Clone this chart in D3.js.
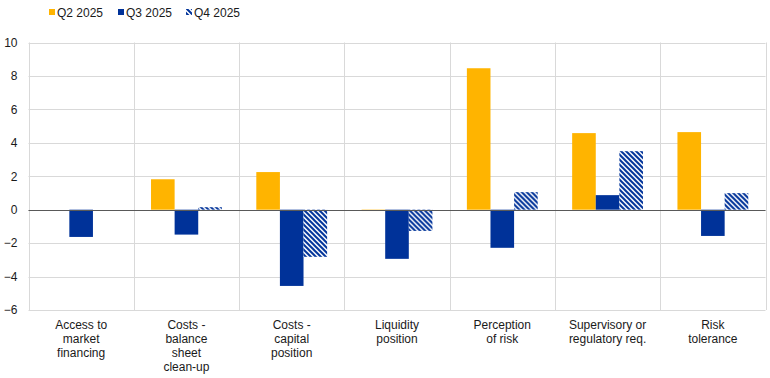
<!DOCTYPE html>
<html>
<head>
<meta charset="utf-8">
<script src="https://cdn.jsdelivr.net/npm/d3@7"></script>
<style>
  body { margin: 0; background: #fff; }
  svg { font-family: "Liberation Sans", Arial, sans-serif; }
</style>
</head>
<body>
<svg id="chart"></svg>
<script>
const categories = [
  ["Access to", "market", "financing"],
  ["Costs -", "balance", "sheet", "clean-up"],
  ["Costs -", "capital", "position"],
  ["Liquidity", "position"],
  ["Perception", "of risk"],
  ["Supervisory or", "regulatory req."],
  ["Risk", "tolerance"]
];
const seriesNames = ["Q2 2025", "Q3 2025", "Q4 2025"];
const q2 = [0, 1.82, 2.25, -0.08, 8.46, 4.58, 4.64];
const q3 = [-1.63, -1.49, -4.56, -2.94, -2.28, 0.87, -1.57];
const q4 = [0, 0.15, -2.82, -1.27, 1.05, 3.5, 0.99];
const yTicks = [-6, -4, -2, 0, 2, 4, 6, 8, 10];

const svgWidth = 770, svgHeight = 378;
const margin = { top: 42.5, right: 4.5, bottom: 68, left: 28.5 };

const svg = d3.select("#chart")
  .attr("width", svgWidth)
  .attr("height", svgHeight);

// diagonal hatch for Q4
const defs = svg.append("defs");
const pat = defs.append("pattern")
  .attr("id", "hatch")
  .attr("patternUnits", "userSpaceOnUse")
  .attr("width", 5).attr("height", 5);
pat.append("rect").attr("width", 5).attr("height", 5).attr("fill", "#fff");
pat.append("path")
  .attr("d", "M-1,-1L6,6M-1,4L1,6M4,-1L6,1")
  .attr("stroke", "#003299")
  .attr("stroke-width", 2);

const colors = ["#FFB400", "#003299", "url(#hatch)"];
const values = [q2, q3, q4];

const x0 = d3.scaleBand()
  .domain(d3.range(categories.length))
  .range([margin.left, svgWidth - margin.right]);

const x1 = d3.scaleBand()
  .domain(d3.range(seriesNames.length))
  .range([0, x0.bandwidth()])
  .paddingOuter(0.73)
  .paddingInner(0);

const y = d3.scaleLinear()
  .domain([-6, 10])
  .range([svgHeight - margin.bottom, margin.top]);

// horizontal gridlines
svg.append("g")
  .selectAll("line")
  .data(yTicks)
  .join("line")
  .attr("x1", margin.left).attr("x2", svgWidth - margin.right)
  .attr("y1", d => Math.round(y(d)) + 0.5).attr("y2", d => Math.round(y(d)) + 0.5)
  .attr("stroke", "#d9d9d9");

// vertical category separators
svg.append("g")
  .selectAll("line")
  .data(d3.range(categories.length + 1))
  .join("line")
  .attr("x1", d => Math.round(margin.left + d * x0.step()) + 0.5)
  .attr("x2", d => Math.round(margin.left + d * x0.step()) + 0.5)
  .attr("y1", y(10)).attr("y2", y(-6))
  .attr("stroke", "#d9d9d9");

// bars
const groups = svg.append("g")
  .selectAll("g")
  .data(categories.map((c, i) => i))
  .join("g")
  .attr("transform", i => `translate(${x0(i)},0)`);

groups.selectAll("rect")
  .data(i => values.map((s, k) => ({ k, v: s[i] })).filter(d => d.v !== 0))
  .join("rect")
  .attr("x", d => x1(d.k))
  .attr("width", x1.bandwidth())
  .attr("y", d => y(Math.max(0, d.v)))
  .attr("height", d => Math.abs(y(d.v) - y(0)))
  .attr("fill", d => colors[d.k]);

// zero line
svg.append("line")
  .attr("x1", margin.left).attr("x2", svgWidth - margin.right)
  .attr("y1", Math.round(y(0)) + 0.5).attr("y2", Math.round(y(0)) + 0.5)
  .attr("stroke", "#595959");

// y axis labels
const yAxis = d3.axisLeft(y).tickValues(yTicks).tickSize(0).tickPadding(11);
const yg = svg.append("g")
  .attr("transform", `translate(${margin.left},0)`)
  .call(yAxis);
yg.select(".domain").remove();
yg.selectAll("text")
  .attr("font-size", 12)
  .attr("font-family", "'Liberation Sans', Arial, sans-serif")
  .attr("fill", "#1a1a1a");

// x labels
svg.append("g")
  .selectAll("text")
  .data(categories)
  .join("text")
  .attr("x", (d, i) => x0(i) + x0.bandwidth() / 2)
  .attr("y", 329)
  .attr("text-anchor", "middle")
  .attr("font-size", 12)
  .attr("fill", "#1a1a1a")
  .selectAll("tspan")
  .data(d => d)
  .join("tspan")
  .attr("x", function () { return this.parentNode.getAttribute("x"); })
  .attr("dy", (d, j) => j === 0 ? 0 : 14)
  .text(d => d);

// legend
const legendX = [49, 118, 186];
const legend = svg.append("g")
  .selectAll("g")
  .data(seriesNames)
  .join("g")
  .attr("transform", (d, i) => `translate(${legendX[i]},8)`);
legend.append("rect")
  .attr("width", 6).attr("height", 6).attr("y", 1)
  .attr("fill", (d, i) => colors[i]);
legend.append("text")
  .attr("x", 8).attr("y", 9)
  .attr("font-size", 12)
  .attr("fill", "#1a1a1a")
  .text(d => d);
</script>
</body>
</html>
